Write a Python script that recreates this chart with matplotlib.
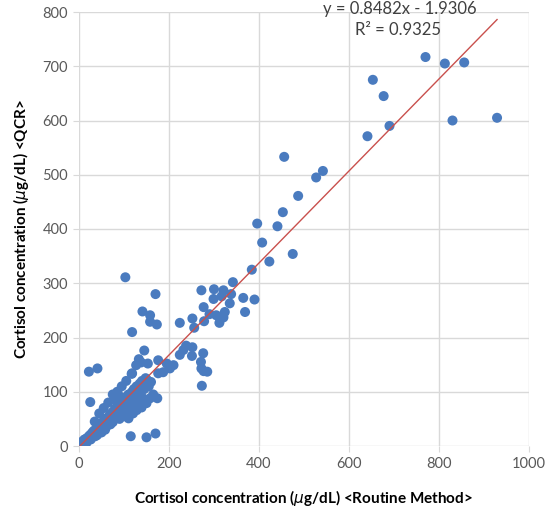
import numpy as np
import matplotlib
matplotlib.use('Agg')
import matplotlib.pyplot as plt

plt.rcParams['font.family'] = ['Lato', 'DejaVu Sans']
plt.rcParams['mathtext.fontset'] = 'dejavusans'

# Cortisol concentration (ug/dL): routine method (x) vs QCR (y)
# high range
routine_high = [770, 813, 856, 653, 677, 830, 929, 690, 641, 456, 542, 527, 487,
                453, 396, 441, 407, 423, 475, 384, 342]
qcr_high = [717, 705, 707, 675, 645, 600, 605, 590, 571, 533, 507, 495, 461,
            431, 410, 405, 375, 340, 354, 325, 302]

# 100-300 cluster
routine_mid = [103, 272, 300, 321, 170, 299, 317, 338, 365, 390, 335, 277, 141, 158,
               324, 369, 290, 305, 252, 321, 158, 173, 224, 278, 312, 256, 118,
               238, 252, 145, 232, 224, 251, 276, 133, 138, 153, 127, 176, 271,
               210, 202, 272, 277, 285, 22, 41, 118, 176, 187, 150, 195, 117, 273,
               25, 115, 150, 170, 174, 158, 87, 110, 128, 150, 134, 139]
qcr_mid = [311, 287, 289, 287, 280, 271, 276, 280, 273, 270, 263, 256, 248, 241,
           247, 247, 243, 241, 235, 237, 229, 224, 227, 230, 227, 218, 210,
           185, 182, 176, 177, 168, 166, 171, 160, 154, 152, 149, 158, 155,
           149, 143, 143, 138, 137, 137, 143, 134, 134, 136, 123, 152, 133, 111,
           81, 18, 16, 23, 88, 88, 95, 51, 66, 79, 95, 71]

# dense band near origin
routine_low = [2, 4, 5, 7, 8, 10, 11, 12, 14, 15, 17, 18, 20, 22, 23, 25, 27, 28,
               30, 32, 33, 35, 37, 38, 40, 42, 44, 45, 47, 48, 50, 52, 54, 55, 57,
               58, 60, 62, 64, 65, 67, 68, 70, 72, 74, 75, 77, 78, 80, 82, 84, 85,
               87, 88, 90, 92, 94, 95, 97, 98, 100, 102, 104, 105, 107, 108, 110,
               112, 114, 115, 118, 120, 122, 125, 128, 130, 133, 135, 138, 140, 142,
               145, 148, 155, 160, 165, 106, 96, 63, 53, 43, 36, 26, 16, 9, 3, 6,
               45, 55, 65, 75, 85, 60, 70, 90, 100, 115, 120, 125, 95, 105, 80,
               35, 50, 40]
qcr_low = [3, 5, 2, 8, 4, 9, 6, 12, 10, 7, 14, 11, 16, 13, 19, 17, 22, 15,
           25, 20, 28, 24, 30, 22, 33, 28, 36, 31, 40, 26, 42, 35, 45, 38, 48,
           30, 50, 43, 52, 46, 56, 40, 58, 50, 62, 44, 64, 55, 68, 60, 70, 52,
           75, 64, 78, 58, 80, 70, 85, 62, 88, 74, 82, 66, 92, 78, 95,
           70, 90, 84, 100, 76, 105, 90, 110, 96, 82, 115, 100, 120, 88,
           105, 125, 110, 118, 95, 60, 55, 45, 38, 32, 18, 12, 5, 1, 2, 4,
           60, 70, 80, 95, 100, 35, 40, 50, 55, 65, 60, 75, 110, 120, 85,
           45, 25, 20]

slope, intercept = 0.8482, -1.9306
x_ticks = [0, 200, 400, 600, 800, 1000]
y_ticks = [0, 100, 200, 300, 400, 500, 600, 700, 800]

routine = routine_high + routine_mid + routine_low
qcr = qcr_high + qcr_mid + qcr_low

fig = plt.figure(figsize=(5.5, 5.08), dpi=100)
ax = fig.add_axes([79 / 550, 62 / 508, 450 / 550, 434 / 508])

ax.scatter(routine, qcr, s=52, color='#4a7bbf', edgecolors='none', zorder=3)

xl = np.array([min(routine), max(routine)])
ax.plot(xl, slope * xl + intercept, color='#c9504d', lw=1.0, zorder=4)

ax.set_xlim(0, 1000)
ax.set_ylim(0, 800)
ax.set_xticks(x_ticks)
ax.set_yticks(y_ticks)
ax.grid(True, color='#d9d9d9', lw=1.0, zorder=0)
for s in ax.spines.values():
    s.set_visible(False)
ax.tick_params(length=4, color='#d9d9d9', labelcolor='#595959',
               labelsize=10.5, pad=4)

ax.set_xlabel('Cortisol concentration ($\\mu$g/dL) <Routine Method>',
              fontsize=11, fontweight='bold', labelpad=12)
ax.set_ylabel('Cortisol concentration ($\\mu$g/dL) <QCR>',
              fontsize=11, fontweight='bold', labelpad=8)

# regression equation at the top edge, centred near x = 400 px
ax.text((400 - 79) / 450, (446 - 9) / 434, 'y = 0.8482x - 1.9306',
        transform=ax.transAxes, ha='center', va='center', fontsize=12,
        color='#404040', clip_on=False)
ax.text((398 - 79) / 450, (446 - 30) / 434, 'R² = 0.9325',
        transform=ax.transAxes, ha='center', va='center', fontsize=12,
        color='#404040', clip_on=False)

fig.savefig('out.png', dpi=100)
